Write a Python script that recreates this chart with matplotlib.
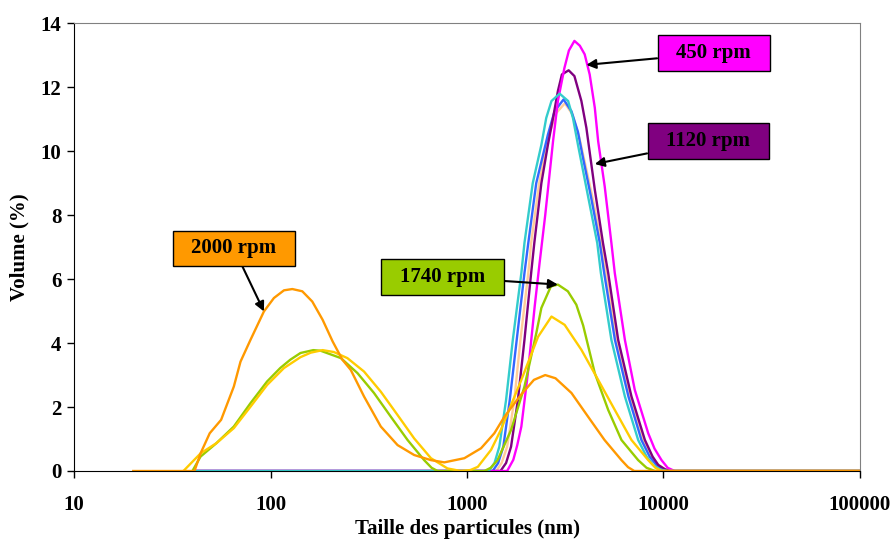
import matplotlib
matplotlib.use('Agg')
import matplotlib.pyplot as plt
from matplotlib.path import Path
from matplotlib.ticker import FixedLocator, FixedFormatter, NullLocator

plt.rcParams.update({
    'font.family': 'serif',
    'font.serif': ['Liberation Serif', 'DejaVu Serif'],
    'font.weight': 'bold',
    'font.size': 15,
})

# ---- data (size in nm, volume in %) ----
x_450 = [41, 1600, 1720, 1800, 1890, 2040, 2210, 2340, 2500, 2740, 2900, 3130,
         3300, 3520, 3750, 3970, 4210, 4470, 4650, 5020, 5430, 5650, 6360, 7140,
         8360, 9000, 9770, 10500, 11400, 100000]
y_450 = [0, 0, 0.35, 0.8, 1.39, 3.06, 5.15, 6.5, 8.0, 10.31, 11.57, 12.6,
         13.15, 13.45, 13.3, 13.03, 12.4, 11.36, 10.31, 8.9, 7.13, 6.19, 4.1, 2.54,
         1.18, 0.7, 0.34, 0.1, 0, 0]

x_1120 = [41, 1480, 1580, 1675, 1815, 1960, 2120, 2200, 2390, 2580, 2740, 2900,
          3040, 3290, 3520, 3820, 4050, 4470, 4920, 5230, 5880, 6870, 8040, 8800,
          9400, 10200, 11000, 100000]
y_1120 = [0, 0, 0.25, 0.76, 2.22, 4.1, 6.19, 7.13, 9.0, 10.2, 11.04, 11.88,
          12.4, 12.53, 12.35, 11.57, 10.73, 8.8, 7.13, 6.19, 4.1, 2.33, 0.97, 0.45,
          0.19, 0.05, 0, 0]

x_turq = [41, 1290, 1380, 1460, 1580, 1710, 1890, 1960, 2160, 2390, 2530, 2690,
          2960, 3270, 3460, 3670, 4130, 4600, 4800, 5430, 6360, 7430, 8200, 8860,
          9600, 10400, 100000]
y_turq = [0, 0, 0.25, 0.76, 2.22, 4.1, 6.19, 7.13, 9.0, 10.2, 11.04, 11.57,
          11.8, 11.57, 11.04, 10.2, 8.59, 7.13, 6.19, 4.1, 2.33, 0.97, 0.45, 0.19,
          0.05, 0, 0]

x_blue = [41, 1350, 1440, 1530, 1650, 1790, 1960, 2050, 2250, 2580, 2790, 3100,
          3400, 3670, 3890, 4270, 4740, 4990, 5660, 6630, 7720, 8500, 9200, 10000,
          10700, 100000]
y_blue = [0, 0, 0.25, 0.76, 2.22, 4.1, 6.19, 7.13, 9.0, 10.52, 11.25, 11.62,
          11.25, 10.6, 9.8, 8.59, 7.13, 6.19, 4.1, 2.33, 0.97, 0.45, 0.19, 0.05,
          0, 0]

x_peach = [41, 1410, 1500, 1600, 1740, 1870, 2050, 2120, 2330, 2590, 2850, 3150,
           3440, 3720, 3960, 4370, 4830, 5090, 5790, 6790, 7910, 8700, 9420, 10200,
           11000, 100000]
y_peach = [0, 0, 0.25, 0.76, 2.22, 4.1, 6.19, 7.13, 9.0, 10.45, 11.2, 11.5,
           11.15, 10.45, 9.7, 8.5, 7.13, 6.19, 4.1, 2.33, 0.97, 0.45, 0.19, 0.05,
           0, 0]

x_1740 = [40, 44, 53, 65, 79, 96, 112, 126, 142, 165, 180, 228, 277, 336, 409, 498,
          605, 660, 708, 1225, 1320, 1430, 1675, 1960, 2250, 2390, 2670, 2900, 3260,
          3600, 3900, 4470, 5230, 6110, 7430, 8200, 9040, 100000]
y_1740 = [0, 0.45, 0.87, 1.39, 2.12, 2.8, 3.22, 3.48, 3.69, 3.78, 3.76, 3.53, 3.06,
          2.44, 1.7, 0.97, 0.34, 0.1, 0, 0, 0.1, 0.34, 1.28, 2.64, 4.3, 5.1, 5.77,
          5.83, 5.62, 5.2, 4.55, 3.06, 1.91, 0.97, 0.34, 0.1, 0, 0]

x_gold = [36, 44, 53, 65, 79, 96, 117, 142, 160, 184, 210, 246, 299, 364, 443, 538,
          655, 795, 930, 1040, 1135, 1325, 1490, 1890, 2300, 2690, 3140, 3820, 4650,
          5650, 6870, 8360, 9100, 9770, 100000]
y_gold = [0, 0.55, 0.87, 1.34, 2.01, 2.69, 3.22, 3.56, 3.7, 3.78, 3.72, 3.53, 3.11,
          2.48, 1.75, 1.02, 0.4, 0.08, 0, 0.03, 0.13, 0.66, 1.3, 2.85, 4.2, 4.83,
          4.57, 3.79, 2.85, 1.91, 0.97, 0.34, 0.1, 0, 0]

x_2000 = [20, 41, 44, 49, 56, 65, 70.3, 79, 92.5, 104, 117, 129, 145, 163, 184, 207,
          232, 256, 299, 364, 443, 538, 655, 766, 969, 1178, 1377, 1550, 1880, 2190,
          2500, 2820, 3400, 4130, 5010, 6110, 6600, 7100, 100000]
y_2000 = [0, 0, 0.55, 1.18, 1.6, 2.64, 3.42, 4.1, 4.99, 5.41, 5.65, 5.69, 5.62, 5.3,
          4.73, 4.05, 3.48, 3.16, 2.33, 1.39, 0.81, 0.5, 0.34, 0.27, 0.4, 0.71, 1.18,
          1.7, 2.38, 2.85, 3.0, 2.9, 2.44, 1.7, 0.97, 0.34, 0.12, 0, 0]

x_ticks = [10, 100, 1000, 10000, 100000]
x_tick_labels = ['10', '100', '1000', '10000', '100000']
y_ticks = [0, 2, 4, 6, 8, 10, 12, 14]

# ---- figure ----
fig = plt.figure(figsize=(8.93, 5.42), dpi=100)
ax = fig.add_axes([0.083, 0.131, 0.880, 0.826])

lw = 1.7
ax.plot(x_peach, y_peach, color='#FFCC99', lw=lw)
ax.plot(x_blue, y_blue, color='#3366FF', lw=lw)
ax.plot(x_1120, y_1120, color='#800080', lw=lw)
ax.plot(x_450, y_450, color='#FF00FF', lw=lw)
ax.plot(x_turq, y_turq, color='#33CCCC', lw=lw)
ax.plot(x_1740, y_1740, color='#99CC00', lw=lw)
ax.plot(x_gold, y_gold, color='#FFCC00', lw=lw)
ax.plot(x_2000, y_2000, color='#FF9900', lw=lw)

ax.set_xscale('log')
ax.set_xlim(10, 100000)
ax.set_ylim(0, 14)
ax.xaxis.set_major_locator(FixedLocator(x_ticks))
ax.xaxis.set_major_formatter(FixedFormatter(x_tick_labels))
ax.xaxis.set_minor_locator(NullLocator())
ax.set_yticks(y_ticks)
ax.tick_params(direction='out', length=5, width=1, labelsize=15, pad=4)
ax.tick_params(axis='x', pad=12)

for s in ['top', 'right']:
    ax.spines[s].set_color('#808080')
for s in ['left', 'bottom']:
    ax.spines[s].set_color('black')

ax.set_xlabel('Taille des particules (nm)', fontsize=15, fontweight='bold', labelpad=3)
ax.set_ylabel('Volume (%)', fontsize=15, fontweight='bold', labelpad=8)


# box wider than tall, like the Excel callouts
def wide_box(x0, y0, width, height, mutation_size):
    px = 0.9 * mutation_size
    py = 0.37 * mutation_size
    x0, y0 = x0 - px, y0 - py
    x1, y1 = x0 + width + 2 * px, y0 + height + 2 * py
    return Path([(x0, y0), (x1, y0), (x1, y1), (x0, y1), (x0, y0)], closed=True)


def callout(text, color, xy, xytext):
    ax.annotate(text, xy=xy, xytext=xytext, textcoords='data',
                ha='center', va='center', fontsize=15, fontweight='bold',
                bbox=dict(boxstyle=wide_box, fc=color, ec='black', lw=1),
                arrowprops=dict(arrowstyle='-|>', color='black', lw=1.5,
                                mutation_scale=14, shrinkA=0, shrinkB=0))


callout('450 rpm', '#FF00FF', (4050, 12.7), (18000, 13.07))
callout('1120 rpm', '#800080', (4470, 9.6), (16900, 10.32))
callout('1740 rpm', '#99CC00', (2900, 5.83), (751, 6.07))
callout('2000 rpm', '#FF9900', (92.5, 4.99), (65, 6.96))

fig.savefig('out.png', dpi=100)
